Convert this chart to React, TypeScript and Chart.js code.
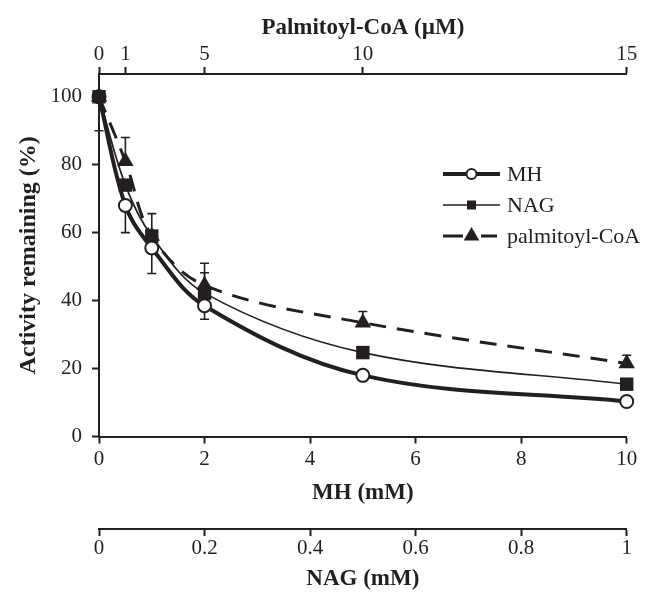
import { useEffect, useRef } from "react";
import { Chart, registerables } from "chart.js";

Chart.register(...registerables);

// ---- data ----
const mhConc = [0, 0.5, 1, 2, 5, 10];
const mhActivity = [100, 68, 55.5, 38.5, 18, 10.3];
const mhErrUp = [0, 0, 0, 0, 0, 0];
const mhErrDown = [10, 8, 7.5, 4, 0, 0];

const nagConc = [0, 0.05, 0.1, 0.2, 0.5, 1];
const nagActivity = [100, 74, 59, 42.2, 24.7, 15.4];
const nagErrUp = [0, 0, 6.6, 6, 0, 0];
const nagErrDown = [0, 0, 0, 0, 0, 0];

// palmitoyl-CoA points, placed on the (non-linear) top axis, in MH-equivalent positions
const palPos = [0, 0.5, 1, 2, 5, 10];
const palActivity = [100, 81, 59, 44.5, 33.5, 21.5];
const palErrUp = [0, 7, 0, 6.5, 3.3, 2.4];
const palErrDown = [0, 0, 0, 0, 0, 0];

const yTicks = [0, 20, 40, 60, 80, 100];
const mhTicks = [0, 2, 4, 6, 8, 10];
const nagTicks = [0, 0.2, 0.4, 0.6, 0.8, 1];
const nagTickLabels = ["0", "0.2", "0.4", "0.6", "0.8", "1"];
const palTickPos = [0, 0.5, 2, 5, 10];
const palTickLabels = ["0", "1", "5", "10", "15"];

const seriesLabels = ["MH", "NAG", "palmitoyl-CoA"];

const INK = "#231f20";
const SERIF = "'Liberation Serif', 'Times New Roman', serif";

const errUpAll = [mhErrUp, nagErrUp, palErrUp];
const errDownAll = [mhErrDown, nagErrDown, palErrDown];

const errorBarPlugin = {
  id: "errorBars",
  beforeDatasetsDraw(chart: any) {
    const ctx = chart.ctx;
    const yScale = chart.scales.y;
    ctx.save();
    ctx.strokeStyle = INK;
    ctx.lineWidth = 1.6;
    chart.data.datasets.forEach((ds: any, i: number) => {
      const meta = chart.getDatasetMeta(i);
      meta.data.forEach((pt: any, j: number) => {
        const v = ds.data[j].y;
        const up = errUpAll[i][j];
        const dn = errDownAll[i][j];
        if (!up && !dn) return;
        const x = pt.x;
        const yTop = yScale.getPixelForValue(v + up);
        const yBot = yScale.getPixelForValue(v - dn);
        ctx.beginPath();
        ctx.moveTo(x, yTop);
        ctx.lineTo(x, yBot);
        if (up) {
          ctx.moveTo(x - 4.5, yTop);
          ctx.lineTo(x + 4.5, yTop);
        }
        if (dn) {
          ctx.moveTo(x - 4.5, yBot);
          ctx.lineTo(x + 4.5, yBot);
        }
        ctx.stroke();
      });
    });
    ctx.restore();
  },
};

const legendPlugin = {
  id: "lineLegend",
  afterDraw(chart: any) {
    const ctx = chart.ctx;
    const x0 = 443;
    const x1 = 500;
    const xm = (x0 + x1) / 2;
    const rowY = [174, 205, 236];
    ctx.save();
    chart.data.datasets.forEach((ds: any, i: number) => {
      const y = rowY[i];
      const dashed = ds.borderDash && ds.borderDash.length;
      ctx.strokeStyle = INK;
      ctx.lineWidth = ds.borderWidth;
      ctx.setLineDash(dashed ? [20, 18] : []);
      ctx.beginPath();
      ctx.moveTo(x0, y);
      ctx.lineTo(x1 - (dashed ? 3 : 0), y);
      ctx.stroke();
      ctx.setLineDash([]);
      ctx.beginPath();
      if (ds.pointStyle === "circle") {
        ctx.arc(xm, y, 5, 0, Math.PI * 2);
        ctx.fillStyle = "#fff";
        ctx.fill();
        ctx.lineWidth = 2;
        ctx.stroke();
      } else if (ds.pointStyle === "rect") {
        ctx.rect(xm - 4.5, y - 4.5, 9, 9);
        ctx.fillStyle = INK;
        ctx.fill();
      } else {
        const r = 9;
        ctx.moveTo(xm, y - r);
        ctx.lineTo(xm + r * 0.866, y + r * 0.5);
        ctx.lineTo(xm - r * 0.866, y + r * 0.5);
        ctx.closePath();
        ctx.fillStyle = INK;
        ctx.fill();
      }
      ctx.fillStyle = INK;
      ctx.font = `22px ${SERIF}`;
      ctx.textBaseline = "middle";
      ctx.textAlign = "left";
      ctx.fillText(ds.label, x1 + 7, y + 1);
    });
    ctx.restore();
  },
};

function axisCommon(tickPadding: number) {
  return {
    grid: {
      display: true,
      drawOnChartArea: false,
      drawTicks: true,
      tickLength: 7,
      tickWidth: 2,
      tickColor: INK,
      color: INK,
    },
    border: { display: true, color: INK, width: 2 },
    ticks: {
      font: { family: SERIF, size: 21 },
      color: INK,
      padding: tickPadding,
      maxRotation: 0,
      autoSkip: false,
    },
  };
}

export default function App() {
  const ref = useRef<HTMLCanvasElement | null>(null);

  useEffect(() => {
    document.body.style.margin = "0";
    const canvas = ref.current;
    if (!canvas) return;

    const chart = new Chart(canvas, {
      type: "line",
      data: {
        datasets: [
          {
            label: seriesLabels[0],
            data: mhConc.map((x, i) => ({ x, y: mhActivity[i] })),
            xAxisID: "x",
            yAxisID: "y",
            borderColor: INK,
            borderWidth: 4,
            tension: 0.35,
            fill: false,
            pointStyle: "circle",
            pointRadius: 6.5,
            pointBackgroundColor: mhConc.map((_, i) => (i === 0 ? INK : "#ffffff")),
            pointBorderColor: INK,
            pointBorderWidth: 2,
            clip: false,
          } as any,
          {
            label: seriesLabels[1],
            data: nagConc.map((x, i) => ({ x, y: nagActivity[i] })),
            xAxisID: "xn",
            yAxisID: "y",
            borderColor: INK,
            borderWidth: 1.7,
            tension: 0.35,
            fill: false,
            pointStyle: "rect",
            pointRadius: 9.5,
            pointBackgroundColor: INK,
            pointBorderColor: INK,
            pointBorderWidth: 0,
            clip: false,
          } as any,
          {
            label: seriesLabels[2],
            data: palPos.map((x, i) => ({ x, y: palActivity[i] })),
            xAxisID: "xt",
            yAxisID: "y",
            borderColor: INK,
            borderWidth: 3,
            borderDash: [17, 11],
            tension: 0.35,
            fill: false,
            pointStyle: "triangle",
            pointRadius: 9.5,
            pointBackgroundColor: INK,
            pointBorderColor: INK,
            pointBorderWidth: 0,
            clip: false,
          } as any,
        ],
      },
      options: {
        responsive: false,
        animation: false,
        devicePixelRatio: 1,
        layout: { padding: { left: 0, right: 29.3, top: 0, bottom: 0 } },
        plugins: {
          legend: { display: false },
          tooltip: { enabled: false },
        },
        scales: {
          x: {
            type: "linear",
            position: "bottom",
            weight: 0,
            min: 0,
            max: 10,
            ...axisCommon(3),
            afterBuildTicks: (s: any) => {
              s.ticks = mhTicks.map((v) => ({ value: v }));
            },
            afterFit: (s: any) => {
              s.height = 92.5;
            },
            title: {
              display: true,
              text: "MH (mM)",
              color: INK,
              font: { family: SERIF, size: 23, weight: "bold" },
              padding: { top: 0, bottom: 22 },
            },
          },
          xn: {
            type: "linear",
            position: "bottom",
            weight: 1,
            min: 0,
            max: 1,
            ...axisCommon(0),
            afterBuildTicks: (s: any) => {
              s.ticks = nagTicks.map((v) => ({ value: v }));
            },
            ticks: {
              font: { family: SERIF, size: 21 },
              color: INK,
              padding: 0,
              maxRotation: 0,
              autoSkip: false,
              callback: (v: any) => nagTickLabels[nagTicks.indexOf(Number(v))],
            },
            afterFit: (s: any) => {
              s.height = 64;
            },
            title: {
              display: true,
              text: "NAG (mM)",
              color: INK,
              font: { family: SERIF, size: 23, weight: "bold" },
              padding: { top: 0, bottom: 0 },
            },
          },
          xt: {
            type: "linear",
            position: "top",
            min: 0,
            max: 10,
            ...axisCommon(0),
            afterBuildTicks: (s: any) => {
              s.ticks = palTickPos.map((v) => ({ value: v }));
            },
            ticks: {
              font: { family: SERIF, size: 21 },
              color: INK,
              padding: 0,
              maxRotation: 0,
              autoSkip: false,
              callback: (v: any) => palTickLabels[palTickPos.indexOf(Number(v))],
            },
            afterFit: (s: any) => {
              s.height = 74;
            },
            title: {
              display: true,
              text: "Palmitoyl-CoA (µM)",
              color: INK,
              font: { family: SERIF, size: 23, weight: "bold" },
              padding: { top: 14, bottom: 0 },
            },
          },
          y: {
            type: "linear",
            position: "left",
            min: 0,
            max: 106.7,
            ...axisCommon(10),
            afterBuildTicks: (s: any) => {
              s.ticks = yTicks.map((v) => ({ value: v }));
            },
            afterFit: (s: any) => {
              s.width = 99;
            },
            title: {
              display: true,
              text: "Activity remaining (%)",
              color: INK,
              font: { family: SERIF, size: 24, weight: "bold" },
              padding: { top: 14, bottom: 0 },
            },
          },
        },
      } as any,
      plugins: [errorBarPlugin, legendPlugin],
    });

    return () => chart.destroy();
  }, []);

  return (
    <div style={{ width: 656, height: 593 }}>
      <canvas ref={ref} width={656} height={593} style={{ display: "block" }} />
    </div>
  );
}
